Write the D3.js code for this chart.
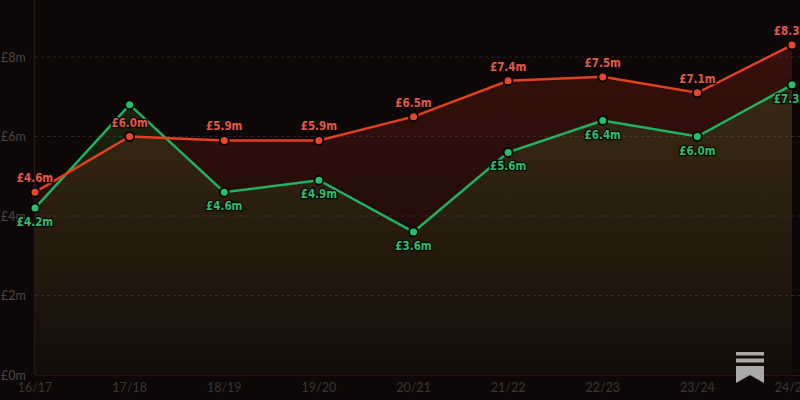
<!DOCTYPE html>
<html>
<head>
<meta charset="utf-8">
<script src="https://cdn.jsdelivr.net/npm/d3@7"></script>
<style>
html,body{margin:0;padding:0;background:#0d0707;}
svg{display:block;}
</style>
</head>
<body>
<svg id="chart" width="800" height="400"></svg>
<script>
const categories = ["16/17","17/18","18/19","19/20","20/21","21/22","22/23","23/24","24/25"];
const redValues = [4.6, 6.0, 5.9, 5.9, 6.5, 7.4, 7.5, 7.1, 8.3];
const greenValues = [4.2, 6.8, 4.6, 4.9, 3.6, 5.6, 6.4, 6.0, 7.3];
const yTicks = [0, 2, 4, 6, 8];
const yTickLabels = ["£0m","£2m","£4m","£6m","£8m"];

const W = 800, H = 400;
const svg = d3.select("#chart");
const x = d3.scalePoint().domain(categories).range([35, 792]);
const y = d3.scaleLinear().domain([0, 8]).range([375, 57]);

const defs = svg.append("defs");
const gR = defs.append("linearGradient").attr("id","gr").attr("gradientUnits","userSpaceOnUse")
  .attr("x1",0).attr("x2",0).attr("y1",y(8)).attr("y2",y(0));
gR.append("stop").attr("offset","0%").attr("stop-color","#c8301c").attr("stop-opacity",0.22);
gR.append("stop").attr("offset","100%").attr("stop-color","#c8301c").attr("stop-opacity",0.02);
const gG = defs.append("linearGradient").attr("id","gg").attr("gradientUnits","userSpaceOnUse")
  .attr("x1",0).attr("x2",0).attr("y1",y(8)).attr("y2",y(0));
gG.append("stop").attr("offset","0%").attr("stop-color","#4a8a2a").attr("stop-opacity",0.24);
gG.append("stop").attr("offset","100%").attr("stop-color","#4a8a2a").attr("stop-opacity",0.03);

svg.append("rect").attr("width",W).attr("height",H).attr("fill","#0d0707");

// grid
svg.append("g").selectAll("line").data(yTicks.filter(d=>d>0)).join("line")
  .attr("x1",35).attr("x2",W).attr("y1",d=>y(d)).attr("y2",d=>y(d))
  .attr("stroke","#2e2222").attr("stroke-width",1).attr("stroke-dasharray","3,3");

const redData = categories.map((c,i)=>({c, v:redValues[i]}));
const greenData = categories.map((c,i)=>({c, v:greenValues[i]}));

const area = d3.area().x(d=>x(d.c)).y0(y(0)).y1(d=>y(d.v));
const line = d3.line().x(d=>x(d.c)).y(d=>y(d.v));

svg.append("path").datum(redData).attr("d",area).attr("fill","url(#gr)");
svg.append("path").datum(greenData).attr("d",area).attr("fill","url(#gg)");

// axes lines
svg.append("line").attr("x1",34.5).attr("x2",34.5).attr("y1",0).attr("y2",y(0))
  .attr("stroke","#2a1616").attr("stroke-width",1.5);
svg.append("line").attr("x1",35).attr("x2",W).attr("y1",y(0)+0.5).attr("y2",y(0)+0.5)
  .attr("stroke","#2c1414").attr("stroke-width",1);

// y tick labels
svg.append("g").selectAll("text").data(yTicks).join("text")
  .attr("x",1).attr("y",d=>y(d)+4.5)
  .attr("fill","#4d4343").attr("font-family","Lato, 'Open Sans', sans-serif").attr("font-size",12.5)
  .text((d,i)=>yTickLabels[i]);

// x tick labels
svg.append("g").selectAll("text").data(categories).join("text")
  .attr("x",d=>x(d)).attr("y",392).attr("text-anchor","middle")
  .attr("fill","#3c3434").attr("font-family","Lato, 'Open Sans', sans-serif").attr("font-size",12.5)
  .text(d=>d);

// lines
svg.append("path").datum(greenData).attr("d",line).attr("fill","none")
  .attr("stroke","#1fb262").attr("stroke-width",2.5);
svg.append("path").datum(redData).attr("d",line).attr("fill","none")
  .attr("stroke","#e2401e").attr("stroke-width",2.5);

// dots
svg.append("g").selectAll("circle").data(greenData).join("circle")
  .attr("cx",d=>x(d.c)).attr("cy",d=>y(d.v)).attr("r",4.5)
  .attr("fill","#22c06a").attr("stroke","#0a0505").attr("stroke-width",2);
svg.append("g").selectAll("circle").data(redData).join("circle")
  .attr("cx",d=>x(d.c)).attr("cy",d=>y(d.v)).attr("r",4.5)
  .attr("fill","#e8482a").attr("stroke","#0a0505").attr("stroke-width",2);

// labels
const fmt = v => "£" + v.toFixed(1) + "m";
const redLabelY = d => y(d.v) - 10;
const greenLabelY = d => y(d.v) + 18;
svg.append("g").selectAll("text").data(greenData.filter((d,i)=>Math.abs(greenLabelY(d) - redLabelY(redData[i])) > 12)).join("text")
  .attr("x",d=>x(d.c)).attr("y",greenLabelY).attr("text-anchor","middle")
  .attr("fill","#2fba6c").attr("font-family","'DejaVu Sans Condensed', 'Noto Sans', sans-serif")
  .attr("font-weight","bold").attr("font-size",11.5)
  .attr("stroke","#0d0707").attr("stroke-width",2.5).attr("paint-order","stroke")
  .text(d=>fmt(d.v));
svg.append("g").selectAll("text").data(redData).join("text")
  .attr("x",d=>x(d.c)).attr("y",redLabelY).attr("text-anchor","middle")
  .attr("fill","#e05a48").attr("font-family","'DejaVu Sans Condensed', 'Noto Sans', sans-serif")
  .attr("font-weight","bold").attr("font-size",11.5)
  .attr("stroke","#0d0707").attr("stroke-width",2.5).attr("paint-order","stroke")
  .text(d=>fmt(d.v));

// watermark logo
const logo = svg.append("g").attr("fill","#a9a9a9");
logo.append("rect").attr("x",736).attr("y",352).attr("width",28).attr("height",3.5);
logo.append("rect").attr("x",736).attr("y",358.5).attr("width",28).attr("height",4);
logo.append("path").attr("d","M736,366 H764 V383 L750,375 L736,383 Z");
</script>
</body>
</html>
